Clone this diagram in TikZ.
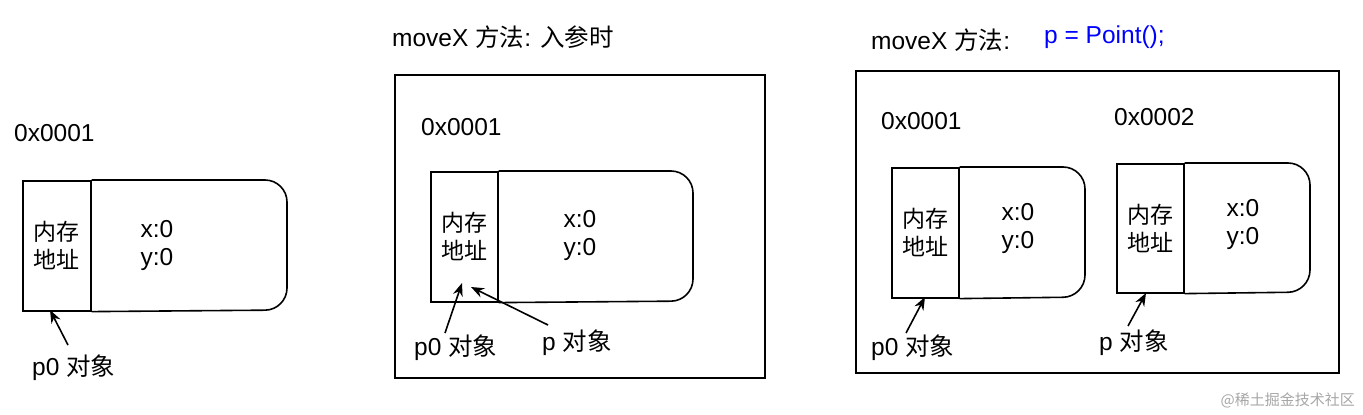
\documentclass[tikz,border=0pt]{standalone}
\usepackage{fontspec}
\setmainfont{Liberation Sans}
\newfontfamily\cjk{Noto Sans CJK SC}
\usetikzlibrary{arrows.meta}
\tikzset{
	txt/.style={inner sep=0pt, font=\fontsize{24.5}{28}\selectfont},
	addr/.style={draw, line width=1.6pt, minimum width=68pt, minimum height=130pt, inner sep=0pt, align=center, font=\cjk\fontsize{23}{28}\selectfont},
	frame/.style={draw, line width=1.6pt},
	ptr/.style={line width=1.6pt, -{Stealth[length=13pt,width=10pt]}}
}
\begin{document}
\begin{tikzpicture}[x=1pt,y=-1pt]
	\useasboundingbox (0,0) rectangle (1363,415);
	% left object
	\node[txt, anchor=west] (a1) at (14,133) {0x0001};
	\node[addr, anchor=north west] (m1) at (22,180) {内存\\地址};
	\draw[line width=1.6pt, rounded corners=22] (m1.north east) -- (287,180) -- (287,310) -- (m1.south east);
	\node[txt, align=left] (v1) at (157,245) {x:0\\[0pt]y:0};
	\node[txt, anchor=west] (p1) at (32,368) {p0 {\cjk 对象}};
	\draw[ptr] (68,345) -- (50,310);
	% middle: moveX entry
	\node[txt, anchor=west] (t2) at (392,37) {moveX {\cjk 方法}: {\cjk 入参时}};
	\draw[frame] (395,75) rectangle (765,378);
	\node[txt, anchor=west] (a2) at (421,127) {0x0001};
	\node[addr, anchor=north west, minimum width=67pt] (m2) at (430,171) {内存\\地址};
	\draw[line width=1.6pt, rounded corners=22] (m2.north east) -- (693,171) -- (693,301) -- (m2.south east);
	\node[txt, align=left] (v2) at (580,235) {x:0\\[0pt]y:0};
	\node[txt, anchor=west] (p2) at (414,348) {p0 {\cjk 对象}};
	\node[txt, anchor=west] (q2) at (542,343) {p {\cjk 对象}};
	\draw[ptr] (445,333) -- (462,283);
	\draw[ptr] (548,325) -- (471,287);
	% right: new Point
	\node[txt, anchor=west] (t3) at (871,40) {moveX {\cjk 方法}:};
	\node[txt, anchor=west, text=blue] (n3) at (1044,37) {p = Point();};
	\draw[frame] (856,71) rectangle (1339,373);
	\node[txt, anchor=west] (a3) at (881,121) {0x0001};
	\node[addr, anchor=north west, minimum width=67pt] (m3) at (891,167) {内存\\地址};
	\draw[line width=1.6pt, rounded corners=22] (m3.north east) -- (1085,167) -- (1085,297) -- (m3.south east);
	\node[txt, align=left] (v3) at (1018,228) {x:0\\[0pt]y:0};
	\node[txt, anchor=west] (a4) at (1114,117) {0x0002};
	\node[addr, anchor=north west, minimum width=67pt, minimum height=129pt] (m4) at (1116,163) {内存\\地址};
	\draw[line width=1.6pt, rounded corners=22] (m4.north east) -- (1310,163) -- (1310,292) -- (m4.south east);
	\node[txt, align=left] (v4) at (1243,224) {x:0\\[0pt]y:0};
	\node[txt, anchor=west] (p3) at (871,348) {p0 {\cjk 对象}};
	\node[txt, anchor=west] (q4) at (1099,343) {p {\cjk 对象}};
	\draw[ptr] (906,333) -- (925,297);
	\draw[ptr] (1128,326) -- (1146,293);
	% watermark
	\node[inner sep=0pt, anchor=east, text=black!35, font=\cjk\fontsize{15}{17}\selectfont] (wm) at (1355,400) {@稀土掘金技术社区};
\end{tikzpicture}
\end{document}
